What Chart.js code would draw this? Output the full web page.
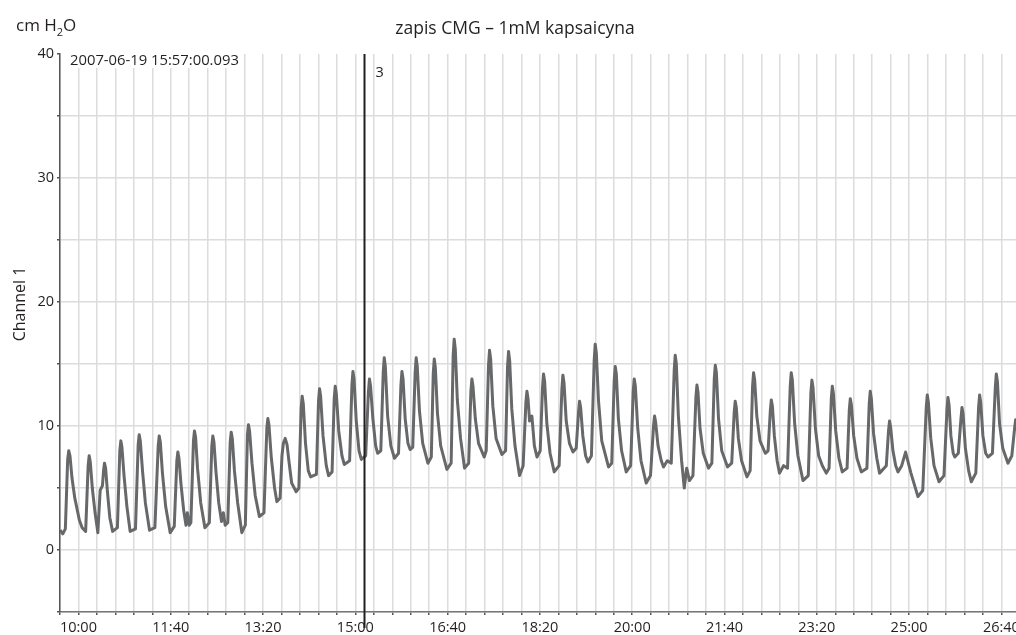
<!DOCTYPE html>
<html lang="pl">
  <head>
    <meta charset="UTF-8" />
    <script src="https://cdn.jsdelivr.net/npm/chart.js"></script>
    <style>
      body {
        margin: 0;
        overflow: hidden;
        background: #fff;
      }
      #wrap {
        position: absolute;
        left: 0;
        top: 0;
      }
    </style>
  </head>
  <body>
    <div id="wrap">
      <canvas id="cmgChart" width="1030" height="635"></canvas>
    </div>

    <script>
      // time in seconds (10:00 = 600 s), pressure in cm H2O
      const traceSec = [
        580.2, 583, 585.8,
        588.3, 589.5, 590.8, 593, 596, 601, 604, 607.8,
        610.5, 611.6, 612.8, 615, 618, 621, 623.5, 626,
        627.2, 628.2, 629.4, 631.5, 634, 637, 642.2,
        644.8, 645.9, 647.1, 649.5, 652.5, 656, 661.8,
        664.7, 665.8, 667, 669.5, 672.5, 677, 682.8,
        686.4, 687.5, 688.7, 691, 694.5, 699.4, 703.8,
        706.6, 707.7, 708.9, 711, 714, 716.5, 718, 720, 721.8,
        724.6, 725.7, 726.9, 729, 732.5, 737, 741.8,
        744.5, 745.6, 746.8, 749, 752, 755, 757, 759, 761.8,
        764.4, 765.5, 766.7, 769, 772.5, 777, 780.8,
        783.1, 784.2, 785.4, 788, 791.5, 796, 801,
        804.1, 805.2, 806.4, 809, 812.5, 815, 818.5,
        820.5, 822, 824, 826, 828, 831, 835.9, 838.8,
        841.3, 842.4, 843.6, 846, 849, 851.5, 857.8,
        860.1, 861.2, 862.4, 865, 868.5, 871, 874.8,
        877.1, 878.2, 879.4, 882, 885.5, 888, 893.8,
        896.3, 897.4, 898.6, 901, 904, 906.5, 911.2,
        914.2, 915.3, 916.5, 919, 922, 924.2, 927.6,
        930.2, 931.3, 932.5, 935, 938.5, 942.4, 946.8,
        949.4, 950.5, 951.7, 954, 957, 959.4, 962.2,
        964.8, 965.9, 967.1, 969.5, 973, 978.6, 982.3,
        984.4, 985.5, 986.7, 989, 992.5, 999.2, 1003.8,
        1006, 1007.1, 1008.3, 1010.5, 1014, 1018.3, 1022.8,
        1025.2, 1026.3, 1027.5, 1030, 1033.5, 1039.6, 1041.8,
        1044.3, 1045.4, 1046.6, 1049, 1052.5, 1058.8, 1062.8,
        1064.9, 1066, 1067.2, 1069.5, 1073, 1077.9, 1081.8,
        1084.8, 1085.9, 1087.1, 1088.8, 1091.3, 1094, 1096.8, 1100.3,
        1102.8, 1103.9, 1105.1, 1107.5, 1111, 1115.5, 1120.8,
        1123.8, 1124.9, 1126.1, 1128.5, 1132, 1135.8, 1139.3,
        1141.8, 1142.9, 1144.1, 1146.5, 1149.5, 1152, 1155.8,
        1158.8, 1159.9, 1161.1, 1163.5, 1167, 1174.3, 1177.8,
        1180.5, 1181.6, 1182.8, 1185, 1188.5, 1193.5, 1198.3,
        1201.1, 1202.2, 1203.4, 1206, 1209.5, 1215.2, 1219.8,
        1223.1, 1224.2, 1225.4, 1228, 1231.5, 1233.9, 1238, 1242.3,
        1245.5, 1246.6, 1247.8, 1250, 1253.5, 1256.4, 1259, 1262, 1265.8,
        1269, 1270.1, 1271.3, 1273.5, 1277, 1282.7, 1286.3,
        1288.9, 1290, 1291.2, 1293.5, 1297, 1303.3, 1307.8,
        1310.5, 1311.6, 1312.8, 1315, 1318.5, 1324.3, 1327.8,
        1330.4, 1331.5, 1332.7, 1335, 1338.5, 1344.2, 1347.2,
        1349.6, 1350.7, 1351.9, 1354, 1357, 1359.6, 1364, 1368.3,
        1371.2, 1372.3, 1373.5, 1376, 1379.5, 1385, 1390.8,
        1393.6, 1394.7, 1395.9, 1398.5, 1402, 1406, 1410.3, 1413.3,
        1415.7, 1416.8, 1418, 1420.5, 1424, 1427.6, 1432.8,
        1435.2, 1436.3, 1437.5, 1440, 1443.5, 1448.2, 1454.3,
        1456.8, 1457.9, 1459.1, 1461.5, 1465, 1468, 1475.3,
        1477.7, 1478.8, 1480, 1482.5, 1485.5, 1488, 1492, 1496.2, 1502, 1509.6, 1514.8,
        1518.6, 1519.7, 1520.9, 1523.5, 1527, 1532.4, 1537.8,
        1541, 1542.1, 1543.3, 1545.3, 1547.8, 1549.5, 1553.3,
        1556.2, 1557.3, 1558.5, 1561, 1564.5, 1567.4, 1572.3,
        1575.3, 1576.4, 1577.6, 1580, 1583, 1585.5, 1590.3,
        1593.4, 1594.5, 1595.7, 1598, 1601.5, 1607.1, 1611.3,
        1614.3, 1615.4, 1619,
      ];
      const traceCm = [
        1.6, 1.3, 1.7,
        7.3, 8.0, 7.6, 5.8, 4.2, 2.4, 1.8, 1.5,
        6.8, 7.6, 7.1, 5.0, 3.0, 1.4, 4.8, 5.2,
        6.4, 7.0, 6.6, 4.6, 2.6, 1.5, 1.8,
        8.0, 8.8, 8.3, 5.9, 3.5, 1.5, 1.7,
        8.5, 9.3, 8.8, 6.3, 3.8, 1.6, 1.8,
        8.4, 9.2, 8.7, 6.2, 3.5, 1.4, 1.9,
        7.2, 7.9, 7.4, 5.4, 3.2, 2.0, 3.0, 2.0, 2.2,
        8.8, 9.6, 9.1, 6.6, 3.8, 1.8, 2.2,
        8.4, 9.2, 8.7, 6.3, 3.8, 2.3, 3.0, 2.0, 2.2,
        8.7, 9.5, 9.0, 6.4, 3.8, 1.4, 2.0,
        9.3, 10.1, 9.6, 7.0, 4.4, 2.7, 3.0,
        9.8, 10.6, 10.1, 7.4, 5.0, 3.9, 4.2,
        7.6, 8.6, 9.0, 8.5, 7.2, 5.4, 4.7, 5.0,
        11.4, 12.4, 11.8, 8.6, 6.4, 5.9, 6.1,
        12.0, 13.0, 12.4, 9.2, 6.8, 6.0, 6.3,
        12.2, 13.2, 12.6, 9.6, 7.6, 6.9, 7.2,
        13.3, 14.4, 13.8, 10.4, 8.0, 7.3, 7.6,
        12.8, 13.8, 13.2, 10.6, 8.4, 7.8, 8.0,
        14.3, 15.5, 14.8, 10.8, 8.4, 7.4, 7.8,
        13.3, 14.4, 13.8, 10.6, 8.6, 8.1, 8.3,
        14.3, 15.5, 14.8, 11.2, 8.6, 7.0, 7.5,
        14.2, 15.4, 14.7, 11.0, 8.4, 6.5, 7.0,
        15.7, 17.0, 16.2, 12.1, 9.0, 6.6, 7.0,
        12.8, 13.8, 13.2, 10.6, 8.6, 7.5, 8.0,
        14.9, 16.1, 15.4, 11.6, 9.0, 7.7, 8.0,
        14.8, 16.0, 15.3, 11.4, 8.4, 6.0, 6.8,
        11.9, 12.8, 12.2, 10.4, 10.8, 8.4, 7.5, 8.0,
        13.1, 14.2, 13.6, 10.2, 7.8, 6.3, 6.8,
        13.0, 14.1, 13.5, 10.4, 8.6, 7.9, 8.2,
        11.1, 12.0, 11.5, 9.2, 7.6, 7.1, 7.6,
        15.3, 16.6, 15.9, 12.0, 8.8, 6.7, 7.0,
        13.7, 14.8, 14.2, 10.6, 8.0, 6.3, 6.8,
        12.8, 13.8, 13.2, 9.8, 7.2, 5.4, 6.0,
        10.0, 10.8, 10.3, 8.4, 7.2, 6.7, 7.2, 7.0,
        14.5, 15.7, 15.0, 10.8, 7.2, 5.0, 6.6, 5.6, 6.0,
        12.3, 13.3, 12.7, 9.8, 7.8, 6.6, 7.0,
        13.8, 14.9, 14.3, 10.6, 8.0, 6.7, 7.0,
        11.1, 12.0, 11.5, 9.0, 7.2, 5.9, 6.4,
        13.2, 14.3, 13.7, 10.8, 8.8, 7.8, 8.0,
        11.2, 12.1, 11.6, 9.2, 7.2, 6.2, 6.8, 6.6,
        13.2, 14.3, 13.7, 10.2, 7.6, 5.6, 6.0,
        12.7, 13.7, 13.1, 9.8, 7.6, 6.8, 6.2, 6.6,
        12.2, 13.2, 12.6, 9.6, 7.4, 6.3, 6.6,
        11.3, 12.2, 11.7, 9.2, 7.4, 6.3, 6.6,
        11.8, 12.8, 12.2, 9.4, 7.4, 6.2, 6.8,
        9.6, 10.4, 9.9, 8.0, 6.8, 6.3, 6.8, 7.9, 6.2, 4.3, 4.8,
        11.5, 12.5, 11.9, 9.0, 6.8, 5.5, 6.0,
        11.3, 12.3, 11.7, 9.2, 7.8, 7.5, 7.8,
        10.6, 11.5, 11.0, 8.2, 6.4, 5.5, 6.2,
        11.5, 12.5, 11.9, 9.2, 7.8, 7.5, 7.8,
        13.1, 14.2, 13.6, 10.2, 8.2, 7.0, 7.6,
        9.8, 10.5, 9.0,
      ];

      const chartTitle = "zapis CMG \u2013 1mM kapsaicyna";
      const unitLabel = ["cm H", "2", "O"];
      const channelLabel = "Channel 1";
      const stampText = "2007-06-19 15:57:00.093";
      const cursorSec = 909.4;
      const cursorLabel = "3";

      const textColor = "#231f20";
      const fontFamily = "'Open Sans', sans-serif";

      function mmss(sec) {
        const m = Math.floor(sec / 60);
        const s = sec % 60;
        return m + ":" + String(s).padStart(2, "0");
      }

      const extras = {
        id: "extras",
        afterDraw(chart) {
          const { ctx, chartArea, scales } = chart;
          ctx.save();

          // timestamp sits on a white patch over the grid
          ctx.fillStyle = "#fff";
          ctx.fillRect(chartArea.left + 1, chartArea.top, 181, 14);
          ctx.fillStyle = textColor;
          ctx.font = "14.8px " + fontFamily;
          ctx.textBaseline = "middle";
          ctx.fillText(stampText, 70, 61);

          // cursor marker
          const cx = Math.round(scales.x.getPixelForValue(cursorSec)) + 0.5;
          ctx.strokeStyle = textColor;
          ctx.lineWidth = 2;
          ctx.beginPath();
          ctx.moveTo(cx, chartArea.top);
          ctx.lineTo(cx, 628);
          ctx.stroke();
          ctx.font = "14.5px " + fontFamily;
          ctx.fillText(cursorLabel, cx + 11, 73);

          // unit label with subscript
          ctx.textBaseline = "alphabetic";
          ctx.font = "17px " + fontFamily;
          let ux = 16;
          ctx.fillText(unitLabel[0], ux, 31);
          ux += ctx.measureText(unitLabel[0]).width;
          ctx.font = "11px " + fontFamily;
          ctx.fillText(unitLabel[1], ux, 36);
          ux += ctx.measureText(unitLabel[1]).width;
          ctx.font = "17px " + fontFamily;
          ctx.fillText(unitLabel[2], ux, 31);

          // y axis title
          ctx.font = "16px " + fontFamily;
          ctx.translate(20, 304);
          ctx.rotate(-Math.PI / 2);
          ctx.textAlign = "center";
          ctx.textBaseline = "middle";
          ctx.fillText(channelLabel, 0, 0);

          ctx.restore();
        },
      };

      const ctx = document.getElementById("cmgChart").getContext("2d");
      const cmgChart = new Chart(ctx, {
        type: "line",
        data: {
          datasets: [
            {
              label: channelLabel,
              data: traceSec.map((t, i) => ({ x: t, y: traceCm[i] })),
              borderColor: "#67686a",
              borderWidth: 3,
              borderJoinStyle: "round",
              pointRadius: 0,
              tension: 0,
              fill: false,
            },
          ],
        },
        plugins: [extras],
        options: {
          responsive: false,
          animation: false,
          layout: { padding: 0 },
          plugins: {
            legend: { display: false },
            tooltip: { enabled: false },
            title: {
              display: true,
              text: chartTitle,
              color: textColor,
              font: { family: fontFamily, size: 17.5, weight: "normal" },
              padding: { top: 19, bottom: 14 },
            },
          },
          scales: {
            x: {
              type: "linear",
              min: 580,
              max: 1631,
              afterBuildTicks: (axis) => {
                axis.ticks = axis.ticks.filter((t) => t.value % 20 === 0);
              },
              afterFit: (axis) => {
                axis.height = 23;
              },
              grid: {
                color: "#dcdcdc",
                lineWidth: 1.5,
                tickLength: 3,
                tickColor: "#555",
              },
              border: { color: "#777", width: 1.5 },
              ticks: {
                stepSize: 20,
                autoSkip: false,
                maxRotation: 0,
                minRotation: 0,
                padding: 4,
                color: textColor,
                font: { family: fontFamily, size: 14.5 },
                callback: (v) => (v % 100 === 0 ? mmss(v) : ""),
              },
            },
            y: {
              min: -5,
              max: 40,
              afterFit: (axis) => {
                axis.width = 60;
              },
              grid: {
                color: (c) => (c.tick && c.tick.value === 40 ? "rgba(0,0,0,0)" : "#dcdcdc"),
                lineWidth: 1.5,
                tickLength: 3,
                tickColor: "#555",
              },
              border: { color: "#555", width: 1.5 },
              ticks: {
                stepSize: 5,
                padding: 3,
                color: textColor,
                font: { family: fontFamily, size: 14.5 },
                callback: (v) => (v % 10 === 0 ? v : ""),
              },
            },
          },
        },
      });
    </script>
  </body>
</html>
